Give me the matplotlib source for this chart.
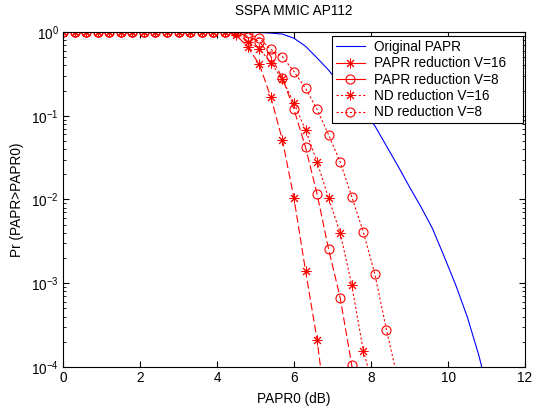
import numpy as np
import matplotlib
matplotlib.use("Agg")
import matplotlib.pyplot as plt
from matplotlib.lines import Line2D
from matplotlib.ticker import LogLocator, NullFormatter

plt.rcParams['font.family'] = ['Liberation Sans', 'DejaVu Sans']
plt.rcParams['font.size'] = 9.8
plt.rcParams['mathtext.fontset'] = 'custom'
plt.rcParams['mathtext.rm'] = 'Liberation Sans'
plt.rcParams['mathtext.it'] = 'Liberation Sans'

# x grid (dB), step 0.3
x_grid = [round(0.3 * i, 1) for i in range(38)]

flat = [1.0] * 15  # 0 .. 4.2

papr16 = flat + [0.92, 0.66, 0.41, 0.166, 0.051, 0.0103, 0.00141, 2.1e-4, 1.7e-5]
papr8 = flat + [1.0, 0.88, 0.77, 0.51, 0.28, 0.119, 0.042, 0.0116, 0.00254, 6.7e-4, 1.05e-4, 1.2e-5]
nd16 = flat + [1.0, 0.76, 0.63, 0.43, 0.272, 0.141, 0.0676, 0.028, 0.0103, 0.0040, 9.5e-4, 1.57e-4, 5e-5]
nd8 = flat + [1.0, 0.96, 0.84, 0.62, 0.507, 0.336, 0.213, 0.119, 0.059, 0.028, 0.0108, 0.0041, 0.00129, 2.8e-4, 7e-5]

orig_log = [0.0] * 16 + [-0.002, -0.006, -0.013, -0.025, -0.075, -0.17, -0.31, -0.456,
                          -0.63, -0.80, -0.96, -1.12, -1.36, -1.60, -1.85, -2.09, -2.35,
                          -2.68, -3.02, -3.40, -3.86, -4.4]
orig = [10 ** v for v in orig_log]

labels = ['Original PAPR', 'PAPR reduction V=16', 'PAPR reduction V=8',
          'ND reduction V=16', 'ND reduction V=8']

AST = (8, 2, 0)  # asterisk marker (like MATLAB '*')
star_kw = dict(marker=AST, ms=7, mew=0.7)
circ_kw = dict(marker='o', ms=6.5, mfc='none', mew=0.8)

fig = plt.figure(figsize=(5.33, 4.15), dpi=100)
ax = fig.add_axes([63 / 533, 48 / 415, 462 / 533, 335 / 415])

ax.semilogy(x_grid[:len(orig)], orig, color='blue', lw=0.8)
ax.semilogy(x_grid[:len(papr16)], papr16, color='red', lw=0.8, dashes=(7, 3), **star_kw)
ax.semilogy(x_grid[:len(papr8)], papr8, color='red', lw=0.8, dashes=(7, 3), **circ_kw)
ax.semilogy(x_grid[:len(nd16)], nd16, color='red', lw=0.8, dashes=(2, 2), **star_kw)
ax.semilogy(x_grid[:len(nd8)], nd8, color='red', lw=0.8, dashes=(2, 2), **circ_kw)

ax.set_xlim(0, 12)
ax.set_ylim(1e-4, 1)
ax.set_xticks(range(0, 13, 2))
ax.yaxis.set_major_locator(LogLocator(base=10, numticks=10))
ax.yaxis.set_minor_locator(LogLocator(base=10, subs=np.arange(2, 10), numticks=10))
ax.yaxis.set_minor_formatter(NullFormatter())
ax.tick_params(which='both', direction='in', top=True, right=True)
ax.tick_params(which='major', length=4, width=0.8, pad=3)
ax.tick_params(which='minor', length=2.5, width=0.6)

ax.set_title('SSPA MMIC AP112', fontsize=9.8, pad=12)
ax.set_xlabel('PAPR0 (dB)', fontsize=9.8, labelpad=5)
ax.set_ylabel('Pr (PAPR>PAPR0)', fontsize=9.8, labelpad=5)

handles = [
    Line2D([], [], color='blue', lw=0.8),
    Line2D([], [], color='red', lw=0.8, **star_kw),
    Line2D([], [], color='red', lw=0.8, **circ_kw),
    Line2D([], [], color='red', lw=0.8, ls=(0, (2, 2)), **star_kw),
    Line2D([], [], color='red', lw=0.8, ls=(0, (2, 2)), **circ_kw),
]
leg = ax.legend(handles, labels, loc='upper left',
                bbox_to_anchor=(269 / 462, 331 / 335, 191 / 462, 0), mode='expand',
                fancybox=False, framealpha=1, edgecolor='black', fontsize=9.8,
                borderaxespad=0, handlelength=2.1, labelspacing=0.17,
                borderpad=0.3, handletextpad=0.7)
leg.get_frame().set_linewidth(0.8)

fig.savefig('out.png', dpi=100)
